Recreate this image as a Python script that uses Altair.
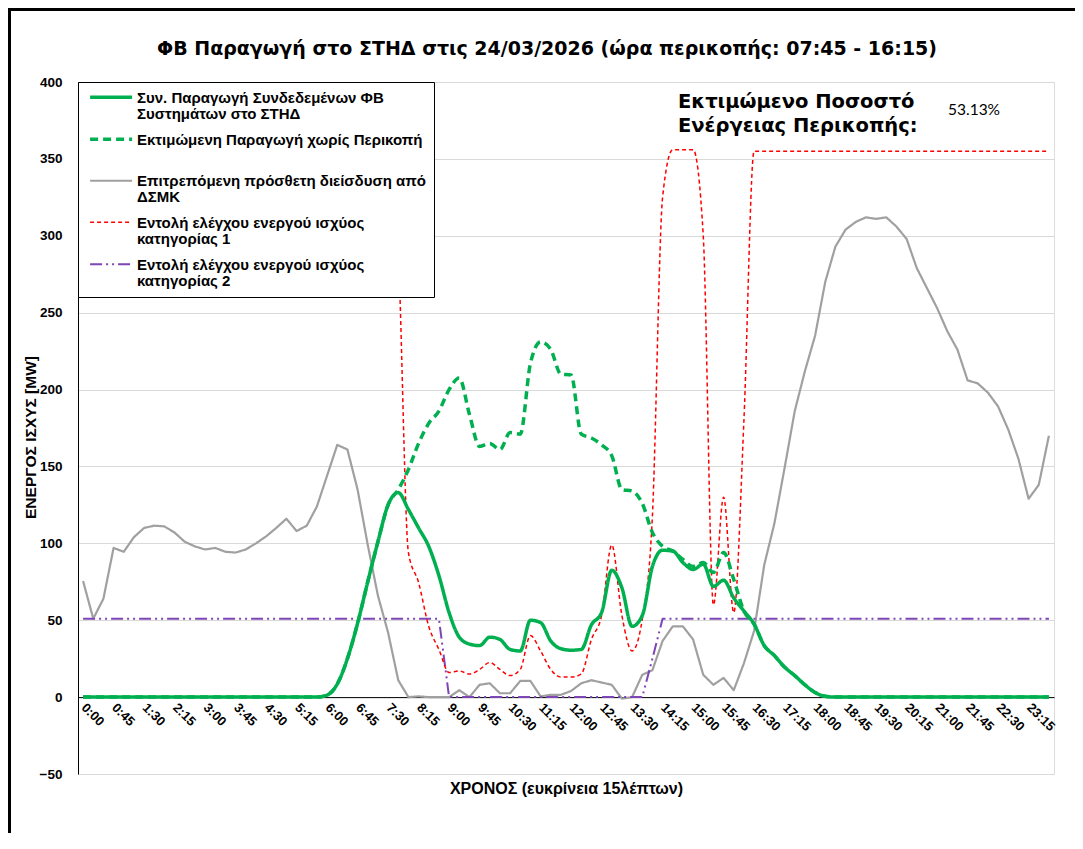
import altair as alt
import pandas as pd

# ---------------- data ----------------
times = [f"{h}:{m:02d}" for h in range(24) for m in (0, 15, 30, 45)]
tick_labels = times[::3]
y_ticks = [-50, 0, 50, 100, 150, 200, 250, 300, 350, 400]

pv_actual = [
    0, 0, 0, 0, 0, 0, 0, 0, 0, 0, 0, 0,
    0, 0, 0, 0, 0, 0, 0, 0, 0, 0, 0, 0,
    1.3, 8.5, 25, 48, 75, 101, 125, 133, 122, 110, 98, 79,
    55, 39, 34.5, 33.5, 39, 37.5, 31, 30, 50, 48.5, 36.5, 31.5,
    30.5, 31, 47, 55, 82.5, 71, 46, 53, 85, 95.5, 95, 87.5,
    83, 86.5, 72, 76, 64.5, 56, 47.5, 33.5, 27, 19.5, 14, 8,
    3, 0.5, 0, 0, 0, 0, 0, 0, 0, 0, 0, 0,
    0, 0, 0, 0, 0, 0, 0, 0, 0, 0, 0, 0,
]

pv_estimated = [
    0, 0, 0, 0, 0, 0, 0, 0, 0, 0, 0, 0,
    0, 0, 0, 0, 0, 0, 0, 0, 0, 0, 0, 0,
    1.3, 8.5, 25, 48, 75, 101, 125, 135, 148, 165, 178, 186,
    200, 207.5, 184, 163, 165, 161, 172, 171, 217, 231, 226, 210,
    209.5, 171, 168.5, 164, 157, 135, 134, 126, 107, 98, 95, 89.5,
    85, 87.5, 81, 94, 76.5, 56, 47.5, 33.5, 27, 19.5, 14, 8,
    3, 0.5, 0, 0, 0, 0, 0, 0, 0, 0, 0, 0,
    0, 0, 0, 0, 0, 0, 0, 0, 0, 0, 0, 0,
]

allowed_penetration = [
    75.5, 51, 64, 97, 94.5, 104, 110, 111.5, 111, 107, 101, 98,
    96, 97, 94.5, 94, 96, 100, 104.5, 110, 116, 108, 111.5, 124,
    144, 164, 161, 135, 99, 66, 42, 11, 0, 0.5, 0, 0,
    0, 4.5, 0, 8, 9, 2.5, 2.5, 10.5, 10.5, 0.5, 1.5, 1.5,
    4, 9, 11, 9.5, 8, -1, 0, 14.5, 17.5, 36.5, 46, 46,
    37.5, 14.5, 8, 12.5, 4.5, 22, 43, 86, 113, 149, 186, 212,
    235, 270, 293, 304, 309, 312, 311, 312, 306, 298, 279, 266,
    253, 238, 226, 206, 204, 198, 189, 174, 155, 129, 138, 170,
]

command_cat1 = [
    355, 355, 355, 355, 355, 355, 355, 355, 355, 355, 355, 355,
    355, 355, 355, 355, 355, 355, 355, 355, 355, 355, 355, 355,
    355, 355, 355, 355, 355, 355, 355, 290, 94, 74.5, 46, 31,
    16, 17, 15, 18, 22.5, 18, 14, 18, 40, 30, 18, 13,
    13, 15, 37.5, 53, 99, 53, 30, 50.5, 118, 325, 356, 356,
    356, 300, 60, 130, 55, 180, 355, 355, 355, 355, 355, 355,
    355, 355, 355, 355, 355, 355, 355, 355, 355, 355, 355, 355,
    355, 355, 355, 355, 355, 355, 355, 355, 355, 355, 355, 355,
]

command_cat2 = [
    51, 51, 51, 51, 51, 51, 51, 51, 51, 51, 51, 51,
    51, 51, 51, 51, 51, 51, 51, 51, 51, 51, 51, 51,
    51, 51, 51, 51, 51, 51, 51, 51, 51, 51, 51, 51,
    0, 0, 0, 0, 0, 0, 0, 0, 0, 0, 0, 0,
    0, 0, 0, 0, 0, 0, 0, 0, 25, 51, 51, 51,
    51, 51, 51, 51, 51, 51, 51, 51, 51, 51, 51, 51,
    51, 51, 51, 51, 51, 51, 51, 51, 51, 51, 51, 51,
    51, 51, 51, 51, 51, 51, 51, 51, 51, 51, 51, 51,
]

series_names = [
    "Συν. Παραγωγή Συνδεδεμένων ΦΒ\nΣυστημάτων στο ΣΤΗΔ",
    "Εκτιμώμενη Παραγωγή χωρίς Περικοπή",
    "Επιτρεπόμενη πρόσθετη διείσδυση από\nΔΣΜΚ",
    "Εντολή ελέγχου ενεργού ισχύος\nκατηγορίας 1",
    "Εντολή ελέγχου ενεργού ισχύος\nκατηγορίας 2",
]
series_colors = ["#00B050", "#00B050", "#A0A0A0", "#FF0000", "#7E45B8"]
series_dashes = [[1, 0], [8, 5], [1, 0], [4, 3], [12, 4, 2, 4, 2, 4]]
series_widths = [3.5, 3.5, 2.2, 1.5, 2.0]

title_text = "ΦΒ Παραγωγή στο ΣΤΗΔ στις 24/03/2026 (ώρα περικοπής: 07:45 - 16:15)"
x_title = "ΧΡΟΝΟΣ (ευκρίνεια 15λέπτων)"
y_title = "ΕΝΕΡΓΟΣ ΙΣΧΥΣ [MW]"
note_lines = ["Εκτιμώμενο Ποσοστό", "Ενέργειας Περικοπής:"]
note_value = "53.13%"

# ---------------- layout ----------------
W, H = 976, 692
zero_offset = -H * 50 / 450
FONT = "Liberation Sans"
WIDE = "DejaVu Sans"

legend = alt.Legend(
    title=None, orient="none", legendX=0, legendY=0, direction="vertical",
    fillColor="white", strokeColor="black", padding=8, rowPadding=9,
    gridAlign="all", symbolType="M-0.8,-0.5H3.2", symbolSize=441,
    labelFont=FONT, labelFontSize=15, labelFontWeight="bold", labelColor="black",
    labelLimit=700, labelOffset=26, labelBaseline="alphabetic",
    labelExpr="split(datum.label, '\\n')", zindex=1,
)

x_enc = alt.X(
    "time:O",
    scale=alt.Scale(type="point", domain=times, padding=0.5),
    axis=alt.Axis(
        values=tick_labels, labelAngle=45, labelAlign="left", labelBaseline="middle",
        labelPadding=8, ticks=False, grid=False, domainColor="black", domainWidth=1,
        offset=zero_offset, labelFont=FONT, labelFontSize=13, labelFontWeight="bold",
        labelColor="black", labelOverlap=False, title=x_title, titleFont=FONT,
        titleFontSize=16, titleFontWeight="bold", titleColor="black", titleY=96,
        titleBaseline="alphabetic",
    ),
)
y_enc = alt.Y(
    "value:Q",
    scale=alt.Scale(domain=[-50, 400], nice=False),
    axis=alt.Axis(
        values=y_ticks, ticks=False, labelPadding=16, grid=True, gridColor="#D9D9D9",
        gridWidth=1, domainColor="black", labelFont=FONT, labelFontSize=13.5,
        labelFontWeight="bold", labelColor="black", title=y_title, titleFont=FONT,
        titleFontSize=15.5, titleFontWeight="bold", titleColor="black", titleX=-48,
        titleY=355, titleBaseline="middle", titleAlign="center",
    ),
)
color = alt.Color("series:N", scale=alt.Scale(domain=series_names, range=series_colors), legend=legend)
dash = alt.StrokeDash("series:N", scale=alt.Scale(domain=series_names, range=series_dashes), legend=legend)
width = alt.StrokeWidth(
    "series:N", scale=alt.Scale(type="ordinal", domain=series_names, range=series_widths), legend=legend
)


def line_layer(k, vals, interp):
    df = pd.DataFrame({"time": times, "value": vals, "series": series_names[k]})
    return alt.Chart(df).mark_line(interpolate=interp, strokeCap="butt", strokeJoin="round").encode(
        x=x_enc, y=y_enc, color=color, strokeDash=dash, strokeWidth=width
    )


def text_layer(txt, x, y, size, weight, font, align):
    return alt.Chart(pd.DataFrame({"t": [txt]})).mark_text(
        align=align, baseline="alphabetic", font=font, fontSize=size, fontWeight=weight, color="black"
    ).encode(x=alt.value(x), y=alt.value(y), text="t:N")


border = alt.Chart(pd.DataFrame({"b": [0]})).mark_rect(
    fillOpacity=0, stroke="black", strokeWidth=3
).encode(x=alt.value(-68.5), x2=alt.value(1030), y=alt.value(-72.5), y2=alt.value(820))

layers = [
    border,
    line_layer(2, allowed_penetration, "linear"),
    line_layer(4, command_cat2, "linear"),
    line_layer(3, command_cat1, "monotone"),
    line_layer(1, pv_estimated, "monotone"),
    line_layer(0, pv_actual, "monotone"),
    text_layer(note_lines[0], 600, 26, 19.5, "bold", WIDE, "left"),
    text_layer(note_lines[1], 600, 50, 19.5, "bold", WIDE, "left"),
    text_layer(note_value, 870, 33, 15.5, "normal", "Lato", "left"),
    text_layer(title_text, 469, -27, 19, "bold", WIDE, "center"),
]

chart = alt.layer(*layers).properties(
    width=W, height=H,
    autosize=alt.AutoSizeParams(type="none"),
    padding={"left": 70, "top": 74, "right": 21, "bottom": 59},
).configure_view(
    stroke="black", strokeWidth=1
).configure(
    background="white", style={"guide-label": {"lineHeight": 16}}
)

chart.save("out.html", embed_options={"renderer": "svg", "actions": False})
